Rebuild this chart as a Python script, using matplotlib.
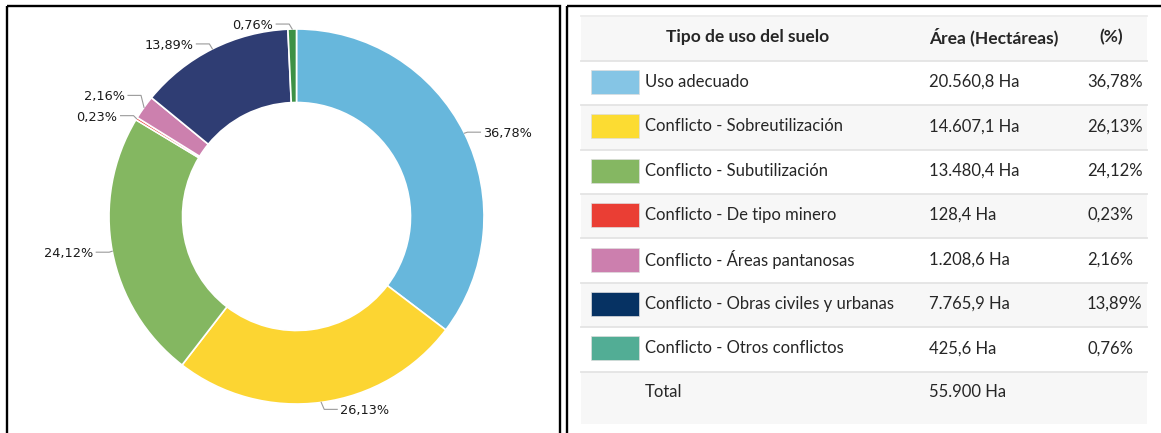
## plot.py
# donut chart of land use conflicts plus the summary table next to it

import numpy as np
import matplotlib
matplotlib.use("Agg")
import matplotlib.pyplot as plt
from matplotlib.patches import Rectangle


# data
categories = ["Uso adecuado", "Conflicto - Sobreutilización", "Conflicto - Subutilización",
              "Conflicto - De tipo minero", "Conflicto - Áreas pantanosas",
              "Conflicto - Obras civiles y urbanas", "Conflicto - Otros conflictos"]
area_ha = [20560.8, 14607.1, 13480.4, 128.4, 1208.6, 7765.9, 425.6]
pct = [36.78, 26.13, 24.12, 0.23, 2.16, 13.89, 0.76]
total_ha = 55900
headers = ["Tipo de uso del suelo", "Área (Hectáreas)", "(%)"]

# colours of the donut and of the table swatches
donut_colors = ["#67b7dc", "#fcd532", "#84b761", "#e8403a", "#cc80ae", "#2f3d73", "#3d9145"]
swatch_colors = ["#85c5e5", "#fcdc32", "#85b762", "#ea3e34", "#cc7fae", "#063263", "#52ad95"]

# vertical nudge (pixels, downwards) of each donut label, mimicking the label layout
label_nudge = [-1, 7, 1, -3, -12, -5, -5]


def es_number(x, decimals=1):
    # spanish formatting: '.' for thousands, ',' for decimals
    s = f"{x:,.{decimals}f}"
    return s.replace(",", "X").replace(".", ",").replace("X", ".")


W, H = 1161, 433
fig = plt.figure(figsize=(W/100, H/100), dpi=100)

# main axes in pixel coordinates (y down) for the boxes and the table
ax = fig.add_axes([0, 0, 1, 1])
ax.set_xlim(0, W)
ax.set_ylim(H, 0)
ax.axis("off")

# the two framed panels
for x0, w in [(7, 553), (567, 700)]:
    ax.add_patch(Rectangle((x0, 6), w, 500, fill=False, edgecolor="black", linewidth=1.7, clip_on=False))

# ---- table ----
tx0, tx1 = 581, 1147
head_top, head_h = 16, 44.7
row_h = 44.4
font_tab = "Lato"
fs_row, fs_head = 12, 12.5
txt_color = "#262626"

ax.add_patch(Rectangle((tx0, head_top), tx1-tx0, head_h, facecolor="#f7f7f7", edgecolor="none"))
head_x = [748, 994, 1111]
for hx, label in zip(head_x, headers):
    ax.text(hx, head_top + head_h/2 - 1, label, ha="center", va="center", fontsize=fs_head,
            fontweight="bold", family=font_tab, color=txt_color)

rows_top = head_top + head_h
for i, (cat, a, p, sc) in enumerate(zip(categories, area_ha, pct, swatch_colors)):
    y0 = rows_top + i*row_h
    bg = "white" if i % 2 == 0 else "#f7f7f7"
    ax.add_patch(Rectangle((tx0, y0), tx1-tx0, row_h, facecolor=bg, edgecolor="none"))
    ax.plot([tx0, tx1], [y0, y0], color="#e4e4e4", linewidth=1.3)
    yc = y0 + row_h/2 - 1
    ax.add_patch(Rectangle((591, yc - 12), 48, 24, facecolor=sc, edgecolor="#dddddd", linewidth=0.5))
    ax.text(645, yc, cat, ha="left", va="center", fontsize=fs_row, family=font_tab, color=txt_color)
    ax.text(929, yc, es_number(a) + " Ha", ha="left", va="center", fontsize=fs_row, family=font_tab, color=txt_color)
    ax.text(1087, yc, es_number(p, 2) + "%", ha="left", va="center", fontsize=fs_row, family=font_tab, color=txt_color)

# total row, a bit taller than the others
y0 = rows_top + len(categories)*row_h
ax.add_patch(Rectangle((tx0, y0), tx1-tx0, 424-y0, facecolor="#f7f7f7", edgecolor="none"))
ax.plot([tx0, tx1], [y0, y0], color="#e4e4e4", linewidth=1.3)
ax.text(645, y0 + row_h/2 - 2, "Total", ha="left", va="center", fontsize=fs_row, family=font_tab, color=txt_color)
ax.text(929, y0 + row_h/2 - 2, es_number(total_ha, 0) + " Ha", ha="left", va="center", fontsize=fs_row,
        family=font_tab, color=txt_color)
ax.plot([tx0, tx1], [head_top, head_top], color="#ececec", linewidth=1.3)

# ---- donut ----
axp = fig.add_axes([0, 0, 1, 1])
axp.patch.set_alpha(0)
cx, cy = 296.5, H - 216.5
r_out, ring = 187.5, 73.5
wedges, _ = axp.pie(pct, colors=donut_colors, radius=r_out, center=(cx, cy), startangle=90,
                    counterclock=False, frame=True,
                    wedgeprops=dict(width=ring, edgecolor="white", linewidth=1.2))
axp.set_xlim(0, W)
axp.set_ylim(0, H)
axp.set_aspect("auto")
axp.axis("off")

# labels with leader lines
for w, p, nudge in zip(wedges, pct, label_nudge):
    ang = np.deg2rad((w.theta1 + w.theta2) / 2)
    ax_, ay = cx + r_out*np.cos(ang), cy + r_out*np.sin(ang)
    side = 1 if np.cos(ang) >= 0 else -1
    ly = ay - nudge
    axp.plot([ax_, ax_ + side*3, ax_ + side*16], [ay, ly, ly], color="#9a9a9a", linewidth=0.8)
    axp.text(ax_ + side*19, ly - 1.5, es_number(p, 2) + "%", ha="left" if side > 0 else "right",
             va="center", fontsize=9.3, color="#1a1a1a", family="DejaVu Sans")

fig.savefig("out.png", dpi=100)
